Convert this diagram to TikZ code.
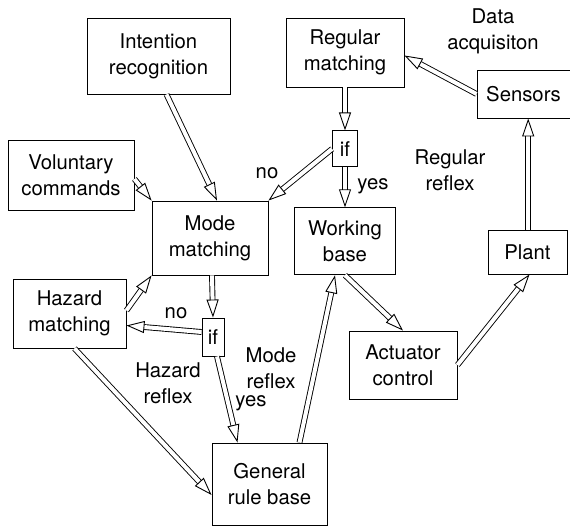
\documentclass[tikz,border=0pt]{standalone}
\usepackage{fontspec}
\setmainfont{TeX Gyre Heros}
\usetikzlibrary{arrows.meta,positioning,calc}

\begin{document}
\begin{tikzpicture}[
      x=1pt, y=-1pt,
      blk/.style={rectangle, draw=black, line width=0.9pt, align=center, inner sep=2pt,
        font=\fontsize{20.3}{26}\selectfont},
      ifbox/.style={blk, inner sep=1pt},
      lbl/.style={align=center, inner sep=0pt, font=\fontsize{20.3}{26}\selectfont},
      dbl/.style={double, double distance=4pt, line width=0.9pt,
        -{Triangle[open, length=18pt, width=12pt]}},
    ]
    \useasboundingbox (0,0) rectangle (570,526);

    \node[blk, minimum width=143pt, minimum height=76pt] (intent) at (158.5,56) {Intention\\recognition};
    \node[blk, minimum width=126pt, minimum height=70pt] (volun) at (71,175) {Voluntary\\commands};
    \node[blk, minimum width=116pt, minimum height=74pt] (modem) at (210,238) {Mode\\matching};
    \node[blk, minimum width=118pt, minimum height=69pt] (regm) at (345,52.5) {Regular\\matching};
    \node[ifbox, minimum width=25pt, minimum height=36pt, below=43pt of regm] (ifreg) {if};
    \node[blk, minimum width=101pt, minimum height=67pt, below=40pt of ifreg] (work) {Working\\base};
    \node[blk, minimum width=93pt, minimum height=48pt] (sens) at (523.5,94) {Sensors};
    \node[blk, minimum width=79pt, minimum height=44pt] (plant) at (527.5,252) {Plant};
    \node[blk, minimum width=113pt, minimum height=69pt] (hazm) at (69.5,313.5) {Hazard\\matching};
    \node[ifbox, minimum width=22pt, minimum height=38pt] (ifmode) at (213,337) {if};
    \node[blk, minimum width=115pt, minimum height=82pt] (gen) at (269.5,484) {General\\rule base};
    \node[blk, minimum width=108pt, minimum height=68pt] (act) at (403,365) {Actuator\\control};

    \node[lbl] (acq) at (493,31) {Data\\acquisiton};
    \node[lbl] (regrefl) at (450,170) {Regular\\reflex};
    \node[lbl] (modrefl) at (271,368) {Mode\\reflex};
    \node[lbl] (hazrefl) at (168,383) {Hazard\\reflex};
    \node[lbl] (noreg) at (267,173) {no};
    \node[lbl] (yesreg) at (373,186) {yes};
    \node[lbl] (nomode) at (176,313) {no};
    \node[lbl] (yesmode) at (251,403) {yes};

    \draw[dbl] ([xshift=8pt]intent.south) -- ([xshift=7pt]modem.north);
    \draw[dbl] ([yshift=-4pt]volun.east) -- (modem.north west);
    \draw[dbl] (ifreg.west) -- (modem.north east);
    \draw[dbl] (regm.south) -- (ifreg.north);
    \draw[dbl] (ifreg.south) -- (ifreg.south |- work.north);
    \draw[dbl] (sens.west) -- ([yshift=-3pt]regm.east);
    \draw[dbl] ([xshift=0.7pt]plant.north) -- ([xshift=0.7pt]plant.north |- sens.south);
    \draw[dbl] (act.east) -- ([xshift=2pt]plant.south);
    \draw[dbl] (work.south) -- (act.north);
    \draw[dbl] ([xshift=30pt]gen.north) -- ([xshift=-10pt]work.south);
    \draw[dbl] ([xshift=2pt]modem.south) -- (ifmode.north);
    \draw[dbl] ([xshift=4pt]ifmode.south) -- ([xshift=-32pt]gen.north);
    \draw[dbl] ([yshift=5pt]ifmode.west) -- ([yshift=-12pt]hazm.east);
    \draw[dbl] ([yshift=3pt]hazm.east) -- (modem.south west);
    \draw[dbl] ([xshift=5pt]hazm.south) -- ([yshift=-11pt]gen.west);
  \end{tikzpicture}
\end{document}
